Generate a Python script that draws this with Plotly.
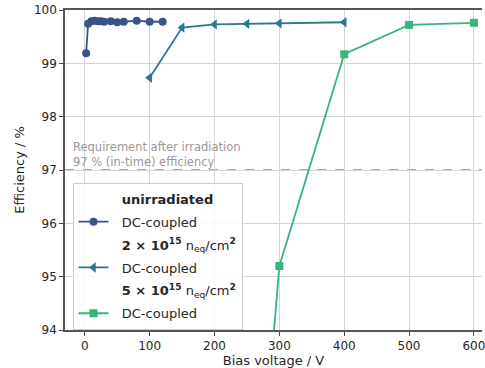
import plotly.graph_objects as go

# Data
unirr_v = [2, 5, 10, 15, 20, 25, 30, 40, 50, 60, 80, 100, 120]
unirr_eff = [99.19, 99.74, 99.79, 99.80, 99.79, 99.79, 99.78, 99.79, 99.77, 99.78, 99.80, 99.78, 99.78]

f2_v = [100, 150, 200, 250, 300, 400]
f2_eff = [98.73, 99.67, 99.73, 99.74, 99.75, 99.77]

f5_v = [250, 300, 400, 500, 600]
f5_eff = [88.0, 95.2, 99.17, 99.72, 99.76]

requirement = 97.0
x_ticks = [0, 100, 200, 300, 400, 500, 600]
y_ticks = [94, 95, 96, 97, 98, 99, 100]

c_blue = "#3b528b"
c_teal = "#2a788e"
c_green = "#35b779"
font_fam = "DejaVu Sans"
txt_col = "#262626"
pad = "&nbsp;&nbsp;"

fig = go.Figure()
gid = [0]

def header(name):
    gid[0] += 1
    fig.add_trace(go.Scatter(x=[None], y=[None], mode="markers",
                             marker=dict(color="rgba(0,0,0,0)", size=1,
                                         line=dict(width=0)),
                             name=pad + name, legendgroup=f"g{gid[0]}", hoverinfo="skip"))

def series(x, y, color, symbol, size):
    gid[0] += 1
    fig.add_trace(go.Scatter(x=x, y=y, mode="lines+markers", name=pad + "DC-coupled",
                             legendgroup=f"g{gid[0]}",
                             line=dict(color=color, width=1.8),
                             marker=dict(symbol=symbol, size=size, color=color)))

header("<b>unirradiated</b>")
series(unirr_v, unirr_eff, c_blue, "circle", 8)
header("<b>2 × 10<sup>15</sup></b> n<sub>eq</sub>/cm<sup><b>2</b></sup>")
series(f2_v, f2_eff, c_teal, "triangle-left", 9)
header("<b>5 × 10<sup>15</sup></b> n<sub>eq</sub>/cm<sup><b>2</b></sup>")
series(f5_v, f5_eff, c_green, "square", 8)

fig.add_shape(type="line", xref="paper", x0=0, x1=1, yref="y", y0=requirement, y1=requirement,
              line=dict(color="#8c8c8c", width=1.4, dash="dash"), layer="below")
fig.add_annotation(xref="x", x=-21, yref="y", y=requirement + 0.3,
                   text="Requirement after irradiation<br>97 % (in-time) efficiency",
                   showarrow=False, xanchor="left", yanchor="middle", align="left",
                   font=dict(family=font_fam, size=11.5, color="#999999"))

fig.update_layout(
    width=485, height=368,
    margin=dict(l=65, r=0, t=10, b=38),
    paper_bgcolor="white", plot_bgcolor="white",
    font=dict(family=font_fam, size=12, color=txt_col),
    showlegend=True,
    legend=dict(x=0.018, y=0.46, xanchor="left", yanchor="top",
                bgcolor="rgba(255,255,255,0.85)", bordercolor="#cccccc", borderwidth=1,
                font=dict(family=font_fam, size=13, color=txt_col),
                tracegroupgap=3, itemwidth=30),
    xaxis=dict(range=[-30.6, 612.5], tickvals=x_ticks, ticks="outside", ticklen=4,
               tickcolor="#444", showgrid=True, gridcolor="#d4d4d4", gridwidth=1,
               showline=True, linecolor="#555", linewidth=1.5, mirror=True, zeroline=False,
               ticklabeloverflow="allow",
               title=dict(text="Bias voltage / V", font=dict(size=13), standoff=4),
               tickfont=dict(size=12)),
    yaxis=dict(range=[94, 100], tickvals=y_ticks, ticks="outside", ticklen=4,
               tickcolor="#444", showgrid=True, gridcolor="#d4d4d4", gridwidth=1,
               showline=True, linecolor="#555", linewidth=1.5, zeroline=False,
               title=dict(text="Efficiency / %", font=dict(size=13), standoff=6),
               tickfont=dict(size=12)),
)

fig.write_html("out.html", config={"displayModeBar": False},
               post_script="document.body.style.margin='0px';document.body.style.overflow='hidden';")
